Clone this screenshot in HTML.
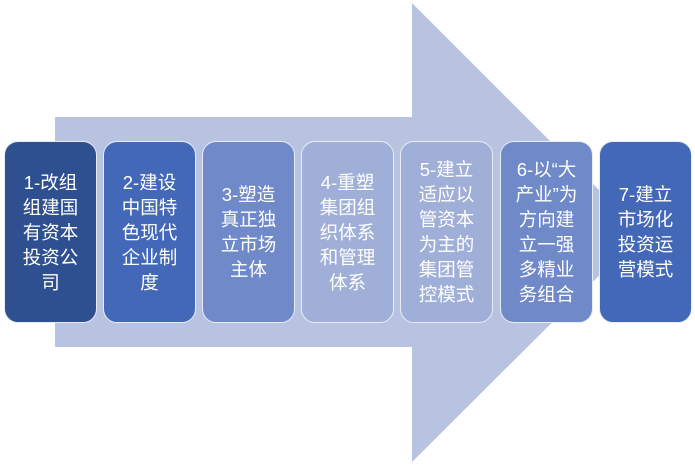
<!DOCTYPE html>
<html><head><meta charset="utf-8"><style>
body{margin:0;width:695px;height:466px;background:#fff;position:relative;overflow:hidden;font-family:"Liberation Sans","Noto Sans CJK SC",sans-serif}
.b{position:absolute;top:141px;width:93px;height:182px;border-radius:14px;border:1px solid #e8ecf6;box-sizing:border-box;display:flex;align-items:center;justify-content:center;text-align:center;color:#fff;font-size:18.5px;line-height:25px}
.b div{width:66px}
</style></head><body>
<svg width="695" height="466" style="position:absolute;left:0;top:0">
<polygon points="55,117 412,117 412,3 642,233 412,462 412,347 55,347" fill="#b7c3e0"/>
</svg>
<div class="b" style="left:4px;background:#2f5090"><div>1-改组组建国有资本投资公司</div></div>
<div class="b" style="left:103px;background:#4468b8"><div>2-建设中国特色现代企业制度</div></div>
<div class="b" style="left:202px;background:#7089c8"><div>3-塑造真正独立市场主体</div></div>
<div class="b" style="left:301px;background:#a0afd8"><div>4-重塑集团组织体系和管理体系</div></div>
<div class="b" style="left:400px;background:#a0afd8"><div>5-建立适应以管资本为主的集团管控模式</div></div>
<div class="b" style="left:500px;background:#7089c8"><div>6-以“大产业”为方向建立一强多精业务组合</div></div>
<div class="b" style="left:599px;background:#4468b8"><div>7-建立市场化投资运营模式</div></div>
</body></html>
